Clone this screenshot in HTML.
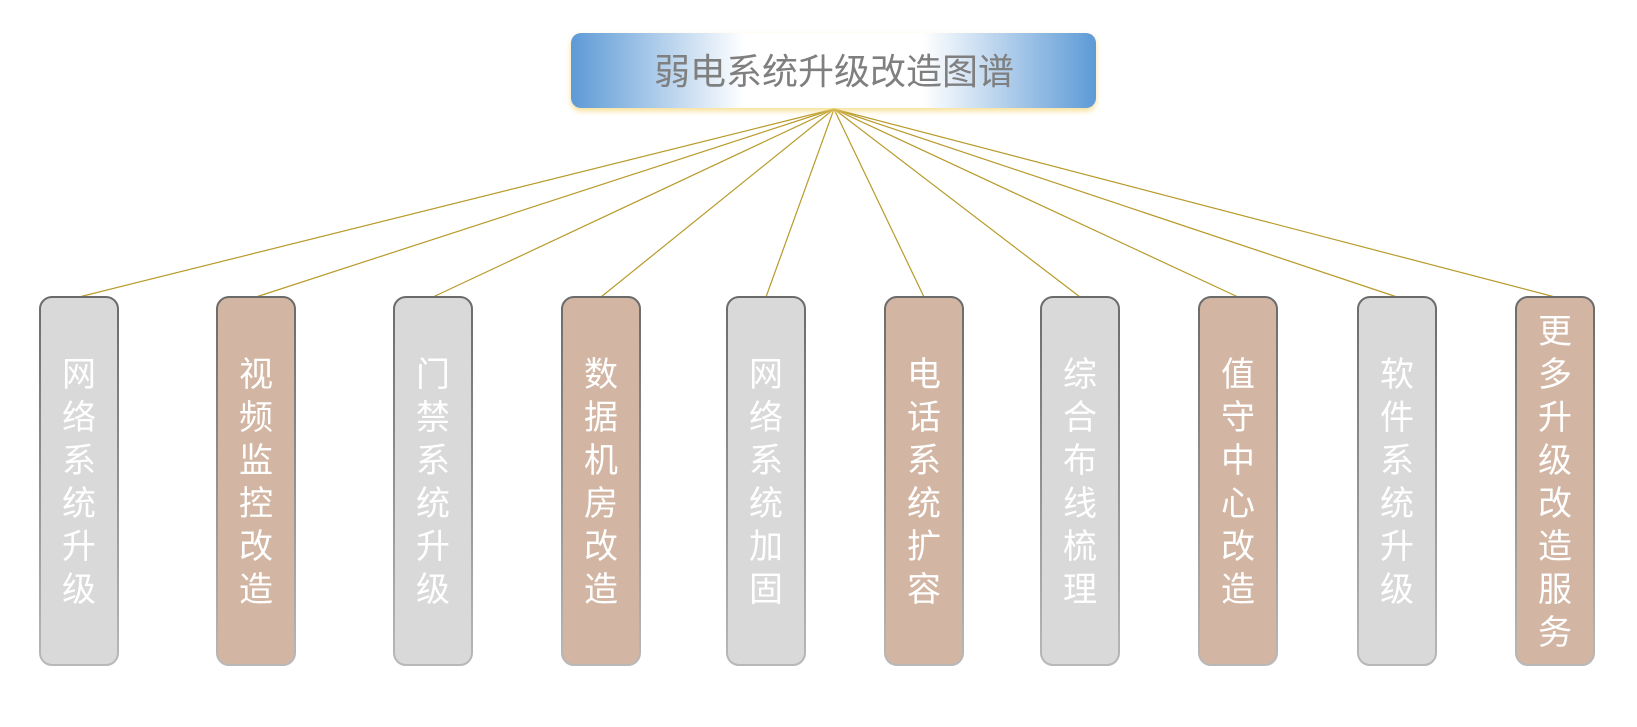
<!DOCTYPE html>
<html><head><meta charset="utf-8"><style>html,body{margin:0;padding:0;background:#fff}svg{display:block}</style></head>
<body>
<svg width="1637" height="727" viewBox="0 0 1637 727" xmlns="http://www.w3.org/2000/svg" font-family="'Liberation Sans','Noto Sans CJK SC',sans-serif">
<defs>
<linearGradient id="tg" x1="0" x2="1" y1="0" y2="0">
<stop offset="0" stop-color="#5d9ad6"/><stop offset="0.33" stop-color="#ffffff"/><stop offset="0.67" stop-color="#ffffff"/><stop offset="1" stop-color="#5d9ad6"/>
</linearGradient>
<linearGradient id="bd" x1="0" x2="0" y1="0" y2="1">
<stop offset="0" stop-color="#6a6a6a"/><stop offset="1" stop-color="#b8b8b8"/>
</linearGradient>
<filter id="glow" x="-10%" y="-30%" width="120%" height="170%"><feDropShadow dx="0" dy="3" stdDeviation="3" flood-color="#f5d77a" flood-opacity="0.8"/></filter>
</defs>
<g stroke="#b89a2a" stroke-width="1.2">
<line x1="834" y1="109" x2="79" y2="297"/>
<line x1="834" y1="109" x2="256" y2="297"/>
<line x1="834" y1="109" x2="433" y2="297"/>
<line x1="834" y1="109" x2="601" y2="297"/>
<line x1="834" y1="109" x2="766" y2="297"/>
<line x1="834" y1="109" x2="924" y2="297"/>
<line x1="834" y1="109" x2="1080" y2="297"/>
<line x1="834" y1="109" x2="1238" y2="297"/>
<line x1="834" y1="109" x2="1397" y2="297"/>
<line x1="834" y1="109" x2="1555" y2="297"/>
</g>
<rect x="571" y="33" width="525" height="75" rx="10" fill="url(#tg)" filter="url(#glow)"/>
<text x="834" y="84" font-size="36" fill="#7f7f7f" text-anchor="middle">弱电系统升级改造图谱</text>
<g stroke="url(#bd)" stroke-width="2">
<rect x="40" y="297" width="78" height="368" rx="12" fill="#d9d9d9"/>
<rect x="217" y="297" width="78" height="368" rx="12" fill="#d2b6a3"/>
<rect x="394" y="297" width="78" height="368" rx="12" fill="#d9d9d9"/>
<rect x="562" y="297" width="78" height="368" rx="12" fill="#d2b6a3"/>
<rect x="727" y="297" width="78" height="368" rx="12" fill="#d9d9d9"/>
<rect x="885" y="297" width="78" height="368" rx="12" fill="#d2b6a3"/>
<rect x="1041" y="297" width="78" height="368" rx="12" fill="#d9d9d9"/>
<rect x="1199" y="297" width="78" height="368" rx="12" fill="#d2b6a3"/>
<rect x="1358" y="297" width="78" height="368" rx="12" fill="#d9d9d9"/>
<rect x="1516" y="297" width="78" height="368" rx="12" fill="#d2b6a3"/>
</g>
<g fill="#ffffff" font-size="34" text-anchor="middle">
<text x="79" y="386"><tspan x="79">网</tspan><tspan x="79" dy="43">络</tspan><tspan x="79" dy="43">系</tspan><tspan x="79" dy="43">统</tspan><tspan x="79" dy="43">升</tspan><tspan x="79" dy="43">级</tspan></text>
<text x="256" y="386"><tspan x="256">视</tspan><tspan x="256" dy="43">频</tspan><tspan x="256" dy="43">监</tspan><tspan x="256" dy="43">控</tspan><tspan x="256" dy="43">改</tspan><tspan x="256" dy="43">造</tspan></text>
<text x="433" y="386"><tspan x="433">门</tspan><tspan x="433" dy="43">禁</tspan><tspan x="433" dy="43">系</tspan><tspan x="433" dy="43">统</tspan><tspan x="433" dy="43">升</tspan><tspan x="433" dy="43">级</tspan></text>
<text x="601" y="386"><tspan x="601">数</tspan><tspan x="601" dy="43">据</tspan><tspan x="601" dy="43">机</tspan><tspan x="601" dy="43">房</tspan><tspan x="601" dy="43">改</tspan><tspan x="601" dy="43">造</tspan></text>
<text x="766" y="386"><tspan x="766">网</tspan><tspan x="766" dy="43">络</tspan><tspan x="766" dy="43">系</tspan><tspan x="766" dy="43">统</tspan><tspan x="766" dy="43">加</tspan><tspan x="766" dy="43">固</tspan></text>
<text x="924" y="386"><tspan x="924">电</tspan><tspan x="924" dy="43">话</tspan><tspan x="924" dy="43">系</tspan><tspan x="924" dy="43">统</tspan><tspan x="924" dy="43">扩</tspan><tspan x="924" dy="43">容</tspan></text>
<text x="1080" y="386"><tspan x="1080">综</tspan><tspan x="1080" dy="43">合</tspan><tspan x="1080" dy="43">布</tspan><tspan x="1080" dy="43">线</tspan><tspan x="1080" dy="43">梳</tspan><tspan x="1080" dy="43">理</tspan></text>
<text x="1238" y="386"><tspan x="1238">值</tspan><tspan x="1238" dy="43">守</tspan><tspan x="1238" dy="43">中</tspan><tspan x="1238" dy="43">心</tspan><tspan x="1238" dy="43">改</tspan><tspan x="1238" dy="43">造</tspan></text>
<text x="1397" y="386"><tspan x="1397">软</tspan><tspan x="1397" dy="43">件</tspan><tspan x="1397" dy="43">系</tspan><tspan x="1397" dy="43">统</tspan><tspan x="1397" dy="43">升</tspan><tspan x="1397" dy="43">级</tspan></text>
<text x="1555" y="343"><tspan x="1555">更</tspan><tspan x="1555" dy="43">多</tspan><tspan x="1555" dy="43">升</tspan><tspan x="1555" dy="43">级</tspan><tspan x="1555" dy="43">改</tspan><tspan x="1555" dy="43">造</tspan><tspan x="1555" dy="43">服</tspan><tspan x="1555" dy="43">务</tspan></text>
</g>
</svg>
</body></html>
